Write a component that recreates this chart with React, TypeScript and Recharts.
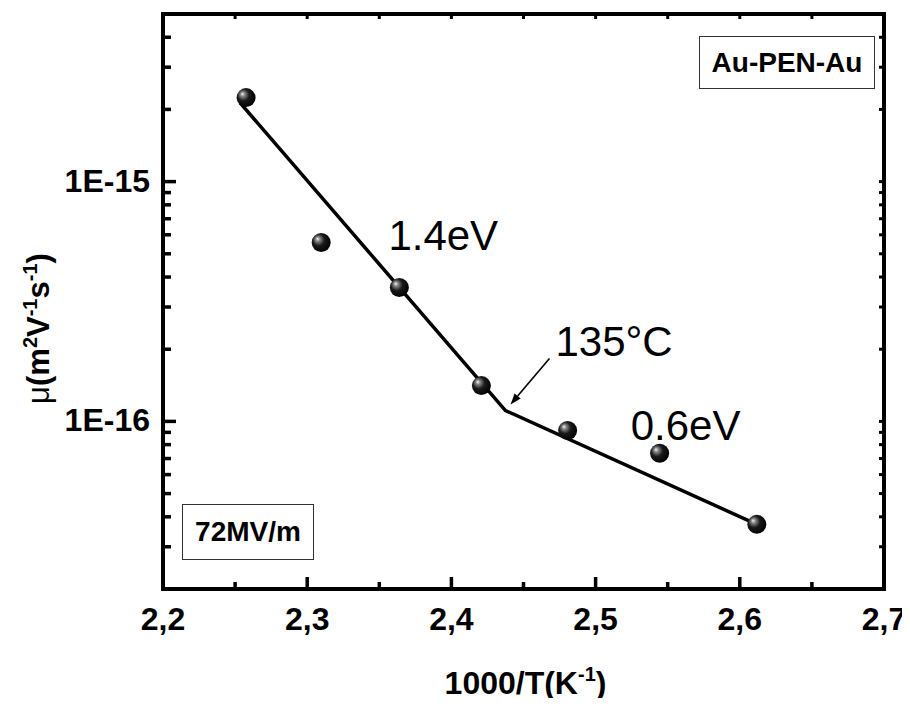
import {
  ComposedChart,
  XAxis,
  YAxis,
  Scatter,
  Line,
  ReferenceArea,
  ReferenceDot,
  ReferenceLine,
  Label,
} from "recharts";

const FONT = '"Liberation Sans", Arial, Helvetica, sans-serif';

// measured mobility vs inverse temperature
const tempInv = [2.2576, 2.3097, 2.3639, 2.4208, 2.4806, 2.5444, 2.6118];
const mobility = [2.24e-15, 5.57e-16, 3.62e-16, 1.41e-16, 9.17e-17, 7.36e-17, 3.72e-17];

// two-segment Arrhenius fit (break at 135°C)
const fitTempInv = [2.2535, 2.4375, 2.6118];
const fitMobility = [2.13e-15, 1.11e-16, 3.72e-17];

const xTicks = [2.2, 2.25, 2.3, 2.35, 2.4, 2.45, 2.5, 2.55, 2.6, 2.65, 2.7];
const xMajor = [2.2, 2.3, 2.4, 2.5, 2.6, 2.7];
const yTicks = [
  2e-17, 3e-17, 4e-17, 5e-17, 6e-17, 7e-17, 8e-17, 9e-17,
  1e-16, 2e-16, 3e-16, 4e-16, 5e-16, 6e-16, 7e-16, 8e-16, 9e-16,
  1e-15, 2e-15, 3e-15, 4e-15, 5e-15,
];
const yMajor = [1e-16, 1e-15];

const annotations = [
  { text: "1.4eV", x: 2.3563, y: 5.21e-16 },
  { text: "135°C", x: 2.4722, y: 1.866e-16 },
  { text: "0.6eV", x: 2.5243, y: 8.33e-17 },
];
const arrowFrom = { x: 2.468, y: 1.83e-16 };
const arrowTo = { x: 2.441, y: 1.177e-16 };

const points = tempInv.map((x, i) => ({ x, y: mobility[i] }));
const fit = fitTempInv.map((x, i) => ({ x, y: fitMobility[i] }));

const W = 910;
const H = 706;
const M = { top: 14, right: 26, bottom: 57, left: 63 };
const PLOT_TOP = M.top;
const PLOT_RIGHT = W - M.right;

const isMajor = (list: number[], v: number) =>
  list.some((m) => Math.abs(m - v) / m < 1e-6);

const XTick = ({ x, y, payload }: any) => {
  const major = isMajor(xMajor, payload.value);
  return (
    <g>
      <line x1={x} y1={y} x2={x} y2={y - (major ? 12 : 7)} stroke="#000" strokeWidth={3.5} />
      <line x1={x} y1={PLOT_TOP} x2={x} y2={PLOT_TOP + 5} stroke="#000" strokeWidth={3} />
      {major && (
        <text x={x} y={y + 41} textAnchor="middle" fontSize={32} fontWeight="bold" fontFamily={FONT}>
          {payload.value.toFixed(1).replace(".", ",")}
        </text>
      )}
    </g>
  );
};

const YTick = ({ x, y, payload }: any) => {
  const major = isMajor(yMajor, payload.value);
  const exp = Math.round(Math.log10(payload.value));
  return (
    <g>
      <line x1={x} y1={y} x2={x + (major ? 13 : 8)} y2={y} stroke="#000" strokeWidth={3.5} />
      <line x1={PLOT_RIGHT - 5} y1={y} x2={PLOT_RIGHT} y2={y} stroke="#000" strokeWidth={3} />
      {major && (
        <text x={x - 13} y={y + 10} textAnchor="end" fontSize={32} fontWeight="bold" fontFamily={FONT}>
          {`1E${exp}`}
        </text>
      )}
    </g>
  );
};

const XTitle = ({ viewBox }: any) => (
  <text
    x={viewBox.x + viewBox.width / 2 + 2}
    y={viewBox.y + 105}
    textAnchor="middle"
    fontSize={32}
    fontWeight="bold"
    fontFamily={FONT}
  >
    1000/T(K
    <tspan fontSize={20} dy={-13}>-1</tspan>
    <tspan dy={13}>)</tspan>
  </text>
);

const YTitle = ({ viewBox }: any) => {
  const cx = viewBox.x - 14;
  const cy = viewBox.y + viewBox.height / 2 + 27;
  return (
    <text
      x={cx}
      y={cy}
      transform={`rotate(-90 ${cx} ${cy})`}
      textAnchor="middle"
      fontSize={31}
      fontWeight="bold"
      fontFamily={FONT}
    >
      <tspan fontWeight="normal">μ</tspan>(m
      <tspan fontSize={20} dy={-12}>2</tspan>
      <tspan dy={12}>V</tspan>
      <tspan fontSize={20} dy={-12}>-1</tspan>
      <tspan dy={12}>s</tspan>
      <tspan fontSize={20} dy={-12}>-1</tspan>
      <tspan dy={12}>)</tspan>
    </text>
  );
};

const Sphere = ({ cx, cy }: any) => (
  <g>
    <defs>
      <radialGradient id="sphere" cx="0.42" cy="0.42" r="0.62" fx="0.3" fy="0.3">
        <stop offset="0%" stopColor="#f5f5f5" />
        <stop offset="18%" stopColor="#8a8a8a" />
        <stop offset="50%" stopColor="#1a1a1a" />
        <stop offset="100%" stopColor="#000" />
      </radialGradient>
    </defs>
    <circle cx={cx} cy={cy} r={9.5} fill="url(#sphere)" />
  </g>
);

const Arrow = ({ x1, y1, x2, y2 }: any) => {
  const a = Math.atan2(y2 - y1, x2 - x1);
  const len = 11;
  const hw = 4;
  const bx = x2 - len * Math.cos(a);
  const by = y2 - len * Math.sin(a);
  const px = -Math.sin(a) * hw;
  const py = Math.cos(a) * hw;
  return (
    <g>
      <line x1={x1} y1={y1} x2={bx} y2={by} stroke="#000" strokeWidth={1.6} />
      <polygon points={`${x2},${y2} ${bx + px},${by + py} ${bx - px},${by - py}`} fill="#000" />
    </g>
  );
};

const boxStyle = {
  position: "absolute" as const,
  border: "1px solid #333",
  background: "#fff",
  display: "flex",
  alignItems: "center",
  justifyContent: "center",
  fontFamily: FONT,
  fontWeight: "bold" as const,
  fontSize: 28,
  color: "#000",
};

export default function App() {
  return (
    <div style={{ position: "relative", width: W, height: H, margin: -8, background: "#fff" }}>
      <ComposedChart width={W} height={H} margin={M}>
        <XAxis
          dataKey="x"
          type="number"
          domain={[2.2, 2.7]}
          ticks={xTicks}
          interval={0}
          allowDataOverflow
          height={60}
          axisLine={false}
          tickLine={false}
          tickSize={0}
          tickMargin={0}
          tick={<XTick />}
        >
          <Label content={<XTitle />} />
        </XAxis>
        <YAxis
          dataKey="y"
          type="number"
          scale="log"
          domain={[2e-17, 5e-15]}
          ticks={yTicks}
          interval={0}
          allowDataOverflow
          width={100}
          axisLine={false}
          tickLine={false}
          tickSize={0}
          tickMargin={0}
          tick={<YTick />}
        >
          <Label content={<YTitle />} />
        </YAxis>
        <ReferenceArea
          x1={2.2}
          x2={2.7}
          y1={2e-17}
          y2={5e-15}
          ifOverflow="visible"
          fill="none"
          fillOpacity={0}
          stroke="#000"
          strokeWidth={4}
          strokeOpacity={1}
        />
        <Line
          data={fit}
          dataKey="y"
          type="linear"
          stroke="#000"
          strokeWidth={3.5}
          dot={false}
          activeDot={false}
          isAnimationActive={false}
        />
        <Scatter data={points} dataKey="y" shape={<Sphere />} isAnimationActive={false} />
        {annotations.map((a) => (
          <ReferenceDot
            key={a.text}
            x={a.x}
            y={a.y}
            r={0}
            ifOverflow="visible"
            shape={(p: any) => (
              <text x={p.cx} y={p.cy} fontSize={42} fontFamily={FONT} fill="#000">
                {a.text}
              </text>
            )}
          />
        ))}
        <ReferenceLine segment={[arrowFrom, arrowTo]} ifOverflow="visible" shape={<Arrow />} />
      </ComposedChart>
      <div style={{ ...boxStyle, left: 699, top: 36, width: 174, height: 51 }}>Au-PEN-Au</div>
      <div style={{ ...boxStyle, left: 182, top: 504, width: 130, height: 54 }}>72MV/m</div>
    </div>
  );
}
